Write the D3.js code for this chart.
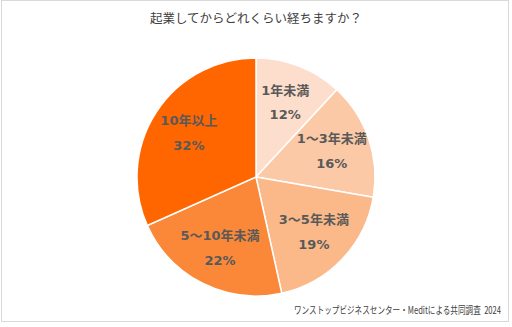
<!DOCTYPE html>
<html><head><meta charset="utf-8">
<script src="https://cdn.jsdelivr.net/npm/d3@7"></script>
<style>html,body{margin:0;padding:0;background:#fff;}svg{display:block;}</style>
</head><body>
<svg id="chart" width="512" height="327"></svg>
<script>
const categories = ["1年未満", "1～3年未満", "3～5年未満", "5～10年未満", "10年以上"];
const values = [12, 16, 19, 22, 32];
const colors = ["#FDDDCB", "#FCC9A6", "#FBB98A", "#FA8838", "#FF6600"];
const title = "起業してからどれくらい経ちますか？";
const source = "ワンストップビジネスセンター・Meditによる共同調査  2024";

const svg = d3.select("#chart");
const font = "'Noto Sans CJK JP', 'Noto Sans', sans-serif";
const labFont = "'DejaVu Sans', 'Noto Sans CJK JP', sans-serif";
svg.append("rect").attr("x",1.5).attr("y",0.5).attr("width",507).attr("height",321)
  .attr("fill","#fff").attr("stroke","#d9d9d9").attr("stroke-width",1);

svg.append("text").attr("x",256).attr("y",23).attr("text-anchor","middle")
  .attr("font-family",font).attr("font-size",12.5).attr("fill","#404040").text(title);

const cx = 256, cy = 177, R = 119;
const data = categories.map((c,i)=>({cat:c, val:values[i], color:colors[i]}));
const pie = d3.pie().value(d=>d.val).sort(null).startAngle(0).endAngle(2*Math.PI);
const arc = d3.arc().innerRadius(0).outerRadius(R);
const labelArc = d3.arc().innerRadius(80).outerRadius(80);
const g = svg.append("g").attr("transform",`translate(${cx},${cy})`);
const arcs = pie(data);
g.selectAll("path").data(arcs).join("path")
  .attr("d",arc).attr("fill",d=>d.data.color).attr("stroke","#fff").attr("stroke-width",1.5);

const lab = g.selectAll("g.lab").data(arcs).join("g").attr("class","lab")
  .attr("transform",d=>`translate(${labelArc.centroid(d)})`);
lab.append("text").attr("y",-8).attr("text-anchor","middle")
  .attr("font-family",labFont).attr("font-weight","bold").attr("font-size",13).attr("fill","#595959")
  .text(d=>d.data.cat);
lab.append("text").attr("y",16.5).attr("text-anchor","middle")
  .attr("font-family",labFont).attr("font-weight","bold").attr("font-size",13).attr("fill","#595959")
  .text(d=>d.data.val+"%");

svg.append("g").attr("transform","translate(501,314) scale(0.76,1)")
  .append("text").attr("x",0).attr("y",0).attr("text-anchor","end")
  .attr("font-family",font).attr("font-size",10).attr("fill","#404040")
  .style("white-space","pre").text(source);
</script>
</body></html>
